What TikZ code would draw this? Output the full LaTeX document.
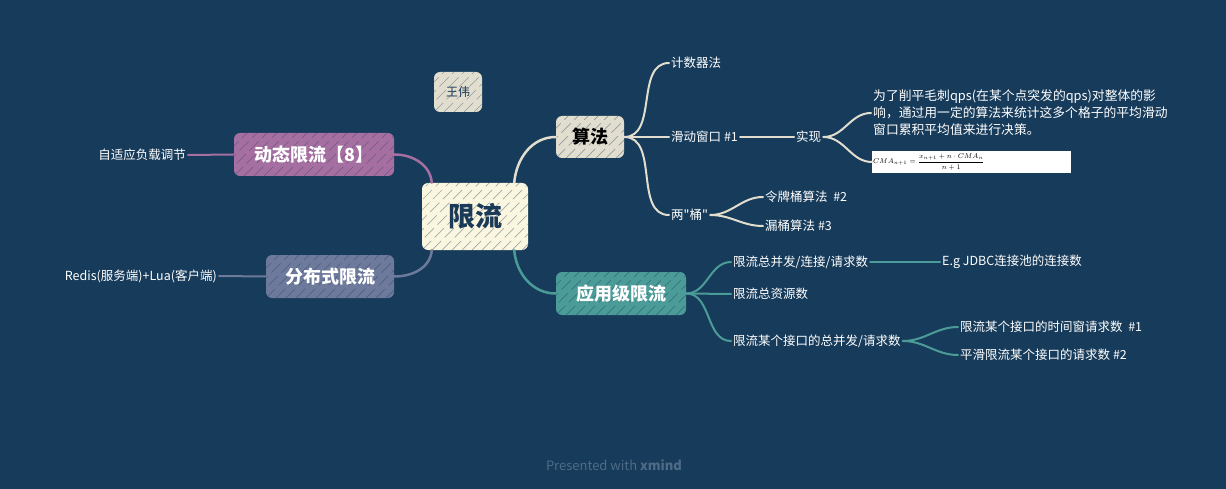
\documentclass[tikz,border=0pt]{standalone}
\usepackage{fontspec}
\setmainfont{Noto Sans CJK SC}
\newfontfamily\cjk{Noto Sans CJK SC}
\usetikzlibrary{positioning}
\definecolor{bgcol}{HTML}{173B5A}
\definecolor{creamcol}{HTML}{FBF6E0}
\definecolor{beigecol}{HTML}{E2DECF}
\definecolor{purplecol}{HTML}{A56FA1}
\definecolor{slatecol}{HTML}{6E7A9C}
\definecolor{tealcol}{HTML}{4B9C98}
\definecolor{navycol}{HTML}{1B3A57}
\definecolor{footcol}{HTML}{4E6C87}
\tikzset{
  hatch/.style={path picture={
    \foreach \i in {-70,-60,...,170}
      \draw[navycol, opacity=.4, line width=.7pt, dash pattern=on 13pt off 5pt]
        ([xshift=\i pt]path picture bounding box.south west) -- ++(70,-70);}},
  topic/.style={rounded corners=6pt, inner sep=0pt, text=white, hatch,
    font=\fontsize{18}{20}\selectfont\bfseries, minimum height=43pt},
  leaf/.style={anchor=west, inner sep=2pt, text=white,
    font=\fontsize{12.5}{15}\selectfont},
  branch/.style={line width=2.5pt, line cap=round},
  twig/.style={line width=2pt, line cap=round},
}
\begin{document}
\begin{tikzpicture}[x=1pt,y=-1pt]
\fill[bgcol] (0,0) rectangle (1226,489);
\useasboundingbox (0,0) rectangle (1226,489);
% main topics
\node[topic, fill=creamcol, text=navycol, minimum width=106pt, minimum height=67pt,
  font=\fontsize{27}{30}\selectfont\bfseries] (root) at (475,216.5) {限流};
\node[topic, fill=beigecol, text=navycol, minimum width=48pt, minimum height=40pt,
  font=\fontsize{12}{14}\selectfont] (wangwei) at (458,92) {王伟};
\node[topic, fill=beigecol, text=black, minimum width=68pt, minimum height=42pt] (algo) at (590,137) {算法};
\node[topic, fill=purplecol, minimum width=160pt] (dyn) at (314,154.5) {动态限流【8】};
\node[topic, fill=slatecol, minimum width=128pt] (dist) at (330,276.5) {分布式限流};
\node[topic, fill=tealcol, minimum width=130pt] (app) at (621,293.5) {应用级限流};
% algo leaves
\node[leaf] (jishu) at (669,63) {计数器法};
\node[leaf] (huadong) at (669,137) {滑动窗口 \#1};
\node[leaf] (shixian) at (794,137) {实现};
\node[leaf, align=left, font=\fontsize{12.8}{17}\selectfont] (para) at (871,113)
  {为了削平毛刺qps(在某个点突发的qps)对整体的影\\
   响，通过用一定的算法来统计这多个格子的平均滑动\\
   窗口累积平均值来进行决策。};
\node[leaf, fill=white, text=black, inner sep=1pt, text width=197pt, minimum height=22pt,
  font=\fontsize{7}{8}\selectfont] (formula) at (872,162)
  {$CMA_{n+1}=\displaystyle\frac{x_{n+1}+n\cdot CMA_n}{n+1}$};
\node[leaf, font=\fontsize{12.5}{15}\cjk] (liangtong) at (669,215) {两"桶"};
\node[leaf] (lingpai) at (763,197) {令牌桶算法 \ \#2};
\node[leaf] (loutong) at (763,226) {漏桶算法 \#3};
% app leaves
\node[leaf] (zongbf) at (731,262) {限流总并发/连接/请求数};
\node[leaf] (jdbc) at (940,262) {E.g JDBC连接池的连接数};
\node[leaf] (ziyuan) at (731,294) {限流总资源数};
\node[leaf] (jiekou) at (731,341) {限流某个接口的总并发/请求数};
\node[leaf] (shijian) at (958,327) {限流某个接口的时间窗请求数 \ \#1};
\node[leaf] (pinghua) at (958,355) {平滑限流某个接口的请求数 \#2};
% left leaves
\node[leaf, anchor=east] (zishiying) at (188,155) {自适应负载调节};
\node[leaf, anchor=east] (redis) at (219,276) {Redis(服务端)+Lua(客户端)};
% footer
\node[text=footcol, font=\fontsize{13}{15}\selectfont] (foot) at (614,465)
  {Presented with \textbf{xmind}};
% connectors
\draw[branch, beigecol] ([xshift=-14pt]root.north east) to[out=85,in=180] (algo.west);
\draw[branch, tealcol] ([xshift=-14pt]root.south east) to[out=-85,in=180] (app.west);
\draw[branch, purplecol] (dyn.east) to[out=0,in=95] ([xshift=10pt]root.north west);
\draw[branch, slatecol] (dist.east) to[out=0,in=-95] ([xshift=10pt]root.south west);
\draw[twig, beigecol] (algo.east) to[out=0,in=180] (jishu.west);
\draw[twig, beigecol] (algo.east) -- (huadong.west);
\draw[twig, beigecol] (algo.east) to[out=0,in=180] (liangtong.west);
\draw[twig, beigecol] (huadong.east) -- (shixian.west);
\draw[twig, beigecol] (shixian.east) to[out=0,in=180] (para.west);
\draw[twig, beigecol] (shixian.east) to[out=0,in=180] (formula.west);
\draw[twig, beigecol] (liangtong.east) to[out=0,in=180] (lingpai.west);
\draw[twig, beigecol] (liangtong.east) to[out=0,in=180] (loutong.west);
\draw[twig, tealcol] (app.east) to[out=0,in=180] (zongbf.west);
\draw[twig, tealcol] (app.east) -- (ziyuan.west);
\draw[twig, tealcol] (app.east) to[out=0,in=180] (jiekou.west);
\draw[twig, tealcol] (zongbf.east) -- (jdbc.west);
\draw[twig, tealcol] (jiekou.east) to[out=0,in=180] (shijian.west);
\draw[twig, tealcol] (jiekou.east) to[out=0,in=180] (pinghua.west);
\draw[twig, purplecol] (dyn.west) -- (zishiying.east);
\draw[twig, slatecol] (dist.west) -- (redis.east);
\end{tikzpicture}
\end{document}
